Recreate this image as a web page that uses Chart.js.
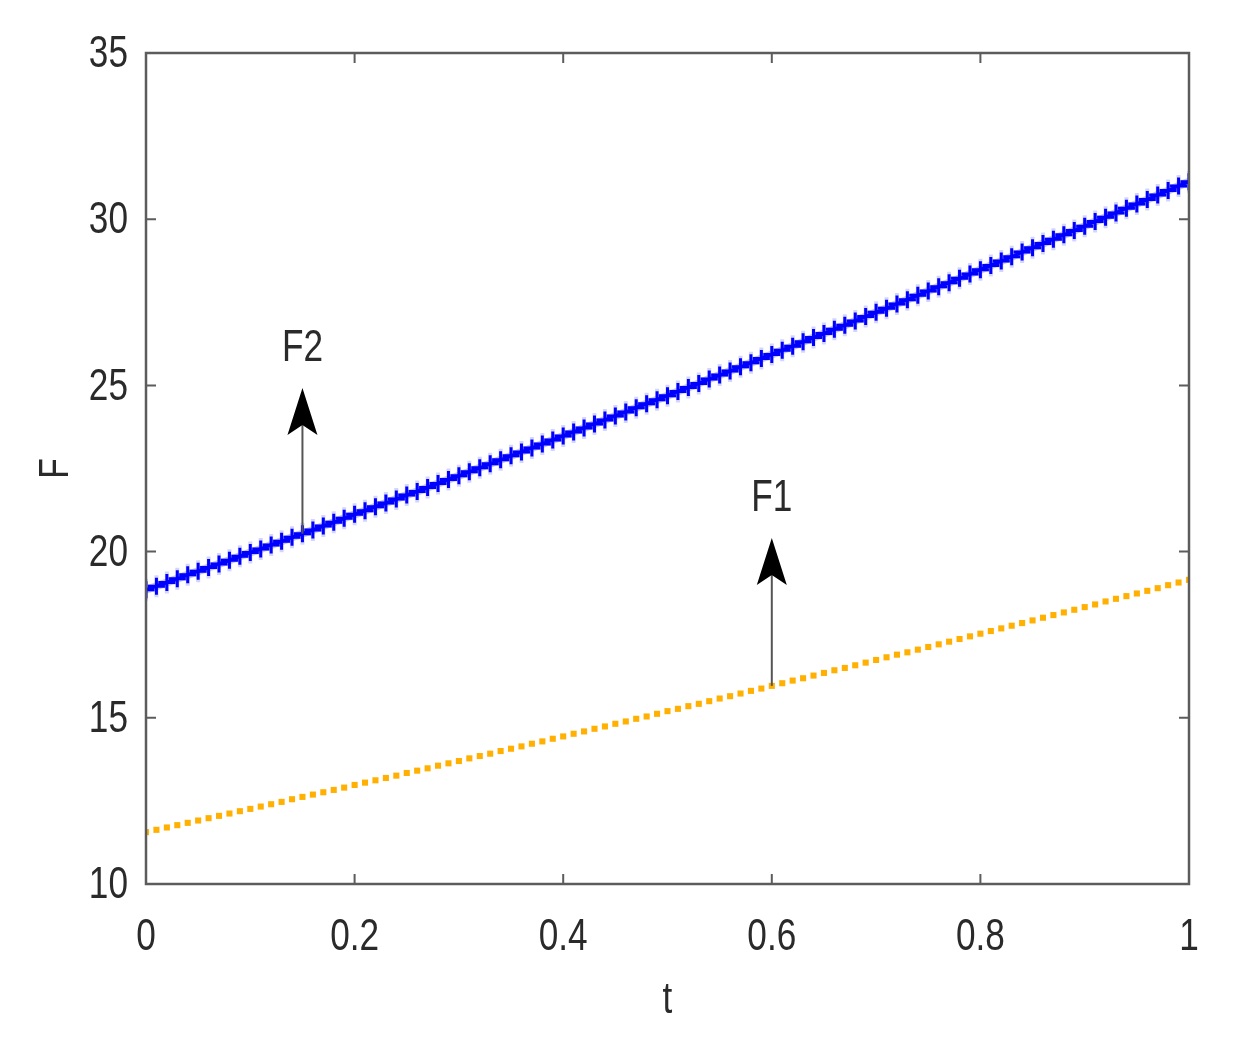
<!DOCTYPE html>
<html>
<head>
<meta charset="utf-8">
<title>F vs t</title>
<script src="https://cdn.jsdelivr.net/npm/chart.js@4.4.1/dist/chart.umd.min.js"></script>
<style>
    html, body { margin: 0; padding: 0; background: #fff; }
    canvas { display: block; }
</style>
</head>
<body>
<canvas id="fChart" width="1233" height="1049"></canvas>
<script>
// t from 0 to 1 in steps of 0.01
const tValues = Array.from({ length: 101 }, (_, i) => i / 100);

// F1 (orange dots)
const f1Values = [
    11.56, 11.63, 11.70, 11.77, 11.84, 11.91, 11.98, 12.05, 12.12, 12.19,
    12.26, 12.33, 12.40, 12.47, 12.55, 12.62, 12.69, 12.76, 12.83, 12.90,
    12.98, 13.05, 13.12, 13.19, 13.26, 13.34, 13.41, 13.48, 13.56, 13.63,
    13.70, 13.78, 13.85, 13.92, 14.00, 14.07, 14.14, 14.22, 14.29, 14.37,
    14.44, 14.52, 14.59, 14.67, 14.74, 14.82, 14.89, 14.97, 15.04, 15.12,
    15.20, 15.27, 15.35, 15.42, 15.50, 15.58, 15.65, 15.73, 15.81, 15.88,
    15.96, 16.04, 16.12, 16.19, 16.27, 16.35, 16.43, 16.50, 16.58, 16.66,
    16.74, 16.82, 16.90, 16.97, 17.05, 17.13, 17.21, 17.29, 17.37, 17.45,
    17.53, 17.61, 17.69, 17.77, 17.85, 17.93, 18.01, 18.09, 18.17, 18.25,
    18.33, 18.41, 18.50, 18.58, 18.66, 18.74, 18.82, 18.90, 18.99, 19.07,
    19.15
];

// F2 (blue crosses)
const f2Values = [
    18.85, 18.96, 19.07, 19.18, 19.30, 19.41, 19.52, 19.63, 19.74, 19.86,
    19.97, 20.08, 20.20, 20.31, 20.43, 20.54, 20.65, 20.77, 20.88, 21.00,
    21.12, 21.23, 21.35, 21.46, 21.58, 21.70, 21.81, 21.93, 22.05, 22.17,
    22.28, 22.40, 22.52, 22.64, 22.76, 22.88, 23.00, 23.12, 23.24, 23.36,
    23.48, 23.60, 23.72, 23.84, 23.96, 24.08, 24.20, 24.33, 24.45, 24.57,
    24.69, 24.82, 24.94, 25.06, 25.19, 25.31, 25.43, 25.56, 25.68, 25.81,
    25.93, 26.06, 26.18, 26.31, 26.44, 26.56, 26.69, 26.81, 26.94, 27.07,
    27.20, 27.32, 27.45, 27.58, 27.71, 27.84, 27.97, 28.09, 28.22, 28.35,
    28.48, 28.61, 28.74, 28.87, 29.01, 29.14, 29.27, 29.40, 29.53, 29.66,
    29.79, 29.93, 30.06, 30.19, 30.33, 30.46, 30.59, 30.73, 30.86, 31.00,
    31.13
];

const xTicks = [0, 0.2, 0.4, 0.6, 0.8, 1];
const yTicks = [10, 15, 20, 25, 30, 35];

// arrow annotations in data units: label, t, arrow start, arrow tip, label height
const arrowLabels = ["F2", "F1"];
const arrowT = [0.15, 0.6];
const arrowFrom = [20.54, 15.96];
const arrowTo = [24.92, 20.41];
const arrowTextY = [26.15, 21.64];

const FONT = "'Liberation Sans', Arial, sans-serif";
const AXIS_COLOR = "#5c5c5c";
const TEXT_COLOR = "#2a2a2a";
const SQUEEZE = 0.8; // text in the original is horizontally narrow

const toPoints = (ys) => tValues.map((t, i) => ({ x: t, y: ys[i] }));

// draw narrow text at (x, y)
const narrowText = (ctx, text, x, y, align, size, rotate) => {
    ctx.save();
    ctx.translate(x, y);
    if (rotate) ctx.rotate(-Math.PI / 2);
    ctx.scale(SQUEEZE, 1);
    ctx.font = size + "px " + FONT;
    ctx.fillStyle = TEXT_COLOR;
    ctx.textAlign = align;
    ctx.textBaseline = "middle";
    ctx.fillText(text, 0, 0);
    ctx.restore();
};

// MATLAB-like frame with inward ticks, tick labels, titles and the arrows
const framePlugin = {
    id: "frame",
    afterDatasetsDraw(chart) {
        const { ctx, chartArea: a, scales } = chart;
        const xs = scales.x, ys = scales.y;
        const tick = 10;

        ctx.save();
        ctx.strokeStyle = AXIS_COLOR;
        ctx.lineWidth = 2.5;
        ctx.strokeRect(a.left, a.top, a.right - a.left, a.bottom - a.top);

        ctx.lineWidth = 2;
        ctx.beginPath();
        xTicks.forEach(v => {
            const px = xs.getPixelForValue(v);
            ctx.moveTo(px, a.bottom); ctx.lineTo(px, a.bottom - tick);
            ctx.moveTo(px, a.top); ctx.lineTo(px, a.top + tick);
        });
        yTicks.forEach(v => {
            const py = ys.getPixelForValue(v);
            ctx.moveTo(a.left, py); ctx.lineTo(a.left + tick, py);
            ctx.moveTo(a.right, py); ctx.lineTo(a.right - tick, py);
        });
        ctx.stroke();

        // tick labels
        xTicks.forEach(v => narrowText(ctx, String(v), xs.getPixelForValue(v), a.bottom + 54, "center", 44));
        yTicks.forEach(v => narrowText(ctx, String(v), a.left - 18, ys.getPixelForValue(v) + 2, "right", 44));

        // axis titles
        narrowText(ctx, "t", (a.left + a.right) / 2, a.bottom + 117, "center", 44);
        narrowText(ctx, "F", a.left - 90, (a.top + a.bottom) / 2, "center", 42, true);

        // arrows
        arrowLabels.forEach((label, i) => {
            const px = xs.getPixelForValue(arrowT[i]);
            const y0 = ys.getPixelForValue(arrowFrom[i]);
            const y1 = ys.getPixelForValue(arrowTo[i]);

            ctx.strokeStyle = "#555";
            ctx.lineWidth = 2;
            ctx.beginPath();
            ctx.moveTo(px, y0);
            ctx.lineTo(px, y1 + 30);
            ctx.stroke();

            ctx.fillStyle = "#000";
            ctx.beginPath();
            ctx.moveTo(px, y1);
            ctx.lineTo(px + 15, y1 + 47);
            ctx.lineTo(px, y1 + 37);
            ctx.lineTo(px - 15, y1 + 47);
            ctx.closePath();
            ctx.fill();

            narrowText(ctx, label, px, ys.getPixelForValue(arrowTextY[i]) + 2, "center", 44);
        });
        ctx.restore();
    }
};

new Chart(document.getElementById("fChart").getContext("2d"), {
    type: "scatter",
    data: {
        datasets: [
            {
                label: "F2",
                data: toPoints(f2Values),
                showLine: true,
                borderColor: "#0000ff",
                borderWidth: 3.5,
                pointStyle: "cross",
                pointRadius: 8.5,
                pointBorderWidth: 3,
                pointBorderColor: "#0000ff",
            },
            {
                label: "F2 halo",
                data: toPoints(f2Values),
                showLine: true,
                borderColor: "rgba(140,140,255,0.5)",
                borderWidth: 8,
                pointStyle: "cross",
                pointRadius: 11,
                pointBorderWidth: 4,
                pointBorderColor: "rgba(160,160,255,0.45)",
            },
            {
                label: "F1",
                data: toPoints(f1Values),
                showLine: false,
                pointStyle: "rect",
                pointRadius: 4.3,
                pointBorderWidth: 0,
                pointBackgroundColor: "#ffb000",
            },
        ],
    },
    options: {
        responsive: false,
        animation: false,
        layout: { padding: { top: 53, right: 44, left: 0, bottom: 0 } },
        plugins: { legend: { display: false }, tooltip: { enabled: false } },
        scales: {
            x: {
                type: "linear",
                min: 0,
                max: 1,
                afterBuildTicks: (scale) => { scale.ticks = xTicks.map(v => ({ value: v })); },
                afterFit: (scale) => { scale.height = 165; },
                grid: { display: false },
                border: { display: false },
                ticks: { display: false },
            },
            y: {
                type: "linear",
                min: 10,
                max: 35,
                afterBuildTicks: (scale) => { scale.ticks = yTicks.map(v => ({ value: v })); },
                afterFit: (scale) => { scale.width = 146; },
                grid: { display: false },
                border: { display: false },
                ticks: { display: false },
            },
        },
    },
    plugins: [framePlugin],
});
</script>
</body>
</html>
